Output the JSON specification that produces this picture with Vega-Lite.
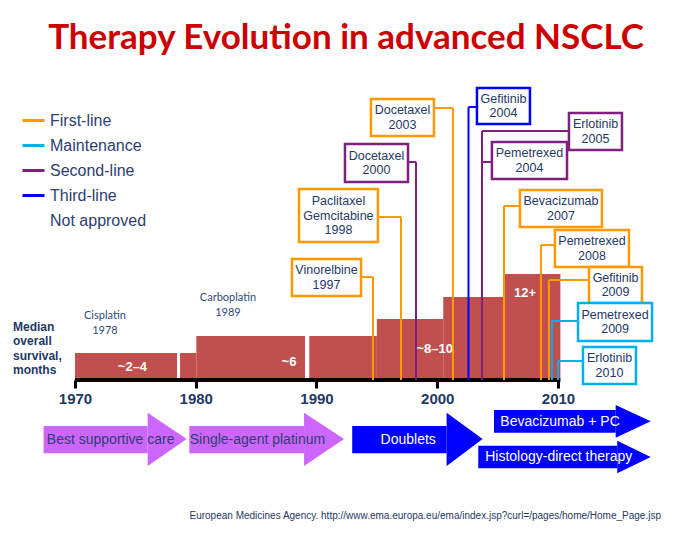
{
  "$schema": "https://vega.github.io/schema/vega-lite/v6.json",
  "padding": {"top": 21, "left": 0, "right": 0, "bottom": 8},
  "background": "white",
  "title": {"text": "Therapy Evolution in advanced NSCLC", "font": "Lato", "fontSize": 35, "fontWeight": "bold", "color": "#cc0000", "anchor": "middle", "offset": 14},
  "config": {"view": {"stroke": null}, "font": "Liberation Sans"},
  "spacing": 24,
  "bounds": "flush",
  "resolve": {"scale": {"x": "independent", "y": "independent"}},
  "datasets": {
    "bars": [
      {"from": 1970.0, "to": 1978.45, "level": 27},
      {"from": 1978.7, "to": 1980.05, "level": 27},
      {"from": 1980.05, "to": 1989.05, "level": 44},
      {"from": 1989.4, "to": 1995.0, "level": 44},
      {"from": 1995.0, "to": 2000.5, "level": 61},
      {"from": 2000.5, "to": 2005.6, "level": 83},
      {"from": 2005.6, "to": 2010.2, "level": 106}
    ],
    "callouts": [
      {"type": "First-line", "label": "Vinorelbine\n1997", "x0": 1987.97, "x1": 1993.69, "y0": 84, "y1": 121, "tx": 1990.83, "ty": 109.75, "cx": 1993.69, "vx": 1994.68, "cl": 103},
      {"type": "First-line", "label": "Paclitaxel\nGemcitabine\n1998", "x0": 1988.55, "x1": 1995.09, "y0": 138, "y1": 191, "tx": 1991.82, "ty": 179, "cx": 1995.09, "vx": 1997.0, "cl": 163},
      {"type": "Second-line", "label": "Docetaxel\n2000", "x0": 1992.36, "x1": 1997.58, "y0": 198, "y1": 236, "tx": 1994.97, "ty": 224.25, "cx": 1997.58, "vx": 1998.24, "cl": 218},
      {"type": "First-line", "label": "Docetaxel\n2003", "x0": 1994.51, "x1": 1999.73, "y0": 244, "y1": 281, "tx": 1997.12, "ty": 269.75, "cx": 1999.73, "vx": 2001.3, "cl": 272},
      {"type": "Third-line", "label": "Gefitinib\n2004", "x0": 2003.29, "x1": 2007.68, "y0": 256, "y1": 292, "tx": 2005.49, "ty": 281.25, "cx": 2003.29, "vx": 2002.59, "cl": 273},
      {"type": "Second-line", "label": "Erlotinib\n2005", "x0": 2010.91, "x1": 2015.3, "y0": 230, "y1": 267, "tx": 2013.11, "ty": 255.75, "cx": 2010.91, "vx": 2003.71, "cl": 249},
      {"type": "Second-line", "label": "Pemetrexed\n2004", "x0": 2004.53, "x1": 2010.75, "y0": 201, "y1": 238, "tx": 2007.64, "ty": 226.75, "cx": 2004.53, "vx": 2003.71, "cl": 218},
      {"type": "First-line", "label": "Bevacizumab\n2007", "x0": 2006.85, "x1": 2013.64, "y0": 153, "y1": 190, "tx": 2010.25, "ty": 178.75, "cx": 2006.85, "vx": 2005.53, "cl": 174},
      {"type": "First-line", "label": "Pemetrexed\n2008", "x0": 2009.75, "x1": 2015.88, "y0": 113, "y1": 150, "tx": 2012.82, "ty": 138.75, "cx": 2009.75, "vx": 2008.59, "cl": 135},
      {"type": "First-line", "label": "Gefitinib\n2009", "x0": 2012.57, "x1": 2016.96, "y0": 77, "y1": 113, "tx": 2014.77, "ty": 102.25, "cx": 2012.57, "vx": 2009.25, "cl": 100},
      {"type": "Maintenance", "label": "Pemetrexed\n2009", "x0": 2011.66, "x1": 2017.79, "y0": 39, "y1": 77, "tx": 2014.73, "ty": 65.25, "cx": 2011.66, "vx": 2009.5, "cl": 59},
      {"type": "Maintenance", "label": "Erlotinib\n2010", "x0": 2012.07, "x1": 2016.46, "y0": -4, "y1": 33, "tx": 2014.27, "ty": 21.75, "cx": 2012.07, "vx": 2010.0, "cl": 19}
    ],
    "barLabels": [
      {"x": 1974.76, "level": 13.5, "label": "~2–4"},
      {"x": 1987.72, "level": 18.5, "label": "~6"},
      {"x": 1999.79, "level": 31, "label": "~8–10"},
      {"x": 2007.27, "level": 87, "label": "12+"}
    ],
    "drugLabels": [
      {"x": 1972.48, "level": 64, "label": "Cisplatin\n1978"},
      {"x": 1982.67, "level": 82, "label": "Carboplatin\n1989"}
    ],
    "arrowBodies": [
      {"arrow": "Best supportive care", "phase": "Before doublets", "x0": 1967.4, "x1": 1976.02, "lo": 71.7, "hi": 99},
      {"arrow": "Single-agent platinum", "phase": "Before doublets", "x0": 1979.47, "x1": 1988.97, "lo": 71.7, "hi": 99},
      {"arrow": "Doublets", "phase": "Doublets and after", "x0": 1992.96, "x1": 2000.78, "lo": 71.7, "hi": 99},
      {"arrow": "Bevacizumab + PC", "phase": "Doublets and after", "x0": 2004.7, "x1": 2014.78, "lo": 92.3, "hi": 115},
      {"arrow": "Histology-direct therapy", "phase": "Doublets and after", "x0": 2003.4, "x1": 2014.91, "lo": 56.7, "hi": 79.3}
    ],
    "arrowHeads": [
      {"arrow": "Best supportive care", "phase": "Before doublets", "x": 1976.02, "lo": 59, "hi": 112.3},
      {"arrow": "Best supportive care", "phase": "Before doublets", "x": 1979.25, "lo": 86, "hi": 86},
      {"arrow": "Single-agent platinum", "phase": "Before doublets", "x": 1988.97, "lo": 59, "hi": 112.3},
      {"arrow": "Single-agent platinum", "phase": "Before doublets", "x": 1992.28, "lo": 86, "hi": 86},
      {"arrow": "Doublets", "phase": "Doublets and after", "x": 2000.78, "lo": 59, "hi": 112.3},
      {"arrow": "Doublets", "phase": "Doublets and after", "x": 2003.76, "lo": 86, "hi": 86},
      {"arrow": "Bevacizumab + PC", "phase": "Doublets and after", "x": 2014.78, "lo": 87.3, "hi": 120},
      {"arrow": "Bevacizumab + PC", "phase": "Doublets and after", "x": 2017.68, "lo": 103.7, "hi": 103.7},
      {"arrow": "Histology-direct therapy", "phase": "Doublets and after", "x": 2014.91, "lo": 51.7, "hi": 84.3},
      {"arrow": "Histology-direct therapy", "phase": "Doublets and after", "x": 2017.68, "lo": 68, "hi": 68}
    ],
    "earlyText": [
      {"x": 1967.67, "level": 85, "label": "Best supportive care"},
      {"x": 1979.5, "level": 85, "label": "Single-agent platinum"}
    ],
    "lateText": [
      {"x": 1997.6, "level": 85, "label": "Doublets"},
      {"x": 2010.17, "level": 103.3, "label": "Bevacizumab + PC"},
      {"x": 2010.06, "level": 67.7, "label": "Histology-direct therapy"}
    ]
  },
  "vconcat": [
    {
      "width": 692,
      "height": 310,
      "layer": [
        {
          "data": {"name": "bars"},
          "mark": {"type": "rect", "color": "#c0504d"},
          "encoding": {
            "x": {"field": "from", "type": "quantitative", "scale": {"domain": [1963.79, 2021.1], "nice": false, "zero": false},
              "axis": {"values": [1970, 1980, 1990, 2000, 2010], "format": "d", "title": null, "domain": false, "grid": false, "ticks": true, "tickColor": "black", "tickWidth": 3, "tickSize": 8, "labelFont": "Liberation Sans", "labelFontWeight": "bold", "labelFontSize": 15, "labelColor": "#1f3864", "labelPadding": 3, "labelFlush": false, "labelOverlap": false}},
            "x2": {"field": "to"},
            "y": {"field": "level", "type": "quantitative", "scale": {"domain": [0, 310], "nice": false, "zero": false}, "axis": null},
            "y2": {"datum": 0}
          }
        },
        {
          "data": {"values": [{"from": 1970, "to": 2010.2}]},
          "mark": {"type": "rule", "color": "black", "strokeWidth": 4},
          "encoding": {
            "x": {"field": "from", "type": "quantitative"},
            "x2": {"field": "to"},
            "y": {"datum": 0, "type": "quantitative", "axis": null}
          }
        },
        {
          "data": {"name": "callouts"},
          "mark": {"type": "rule", "strokeWidth": 2},
          "encoding": {
            "x": {"field": "cx", "type": "quantitative"},
            "x2": {"field": "vx"},
            "y": {"field": "cl", "type": "quantitative", "axis": null},
            "stroke": {"field": "type", "type": "nominal",
              "scale": {"domain": ["First-line", "Maintenance", "Second-line", "Third-line", "Not approved"], "range": ["#ff9900", "#00b0f0", "#7f1f7f", "#0000ff", "transparent"]},
              "legend": {"orient": "none", "legendX": 21, "legendY": 38, "title": null, "symbolType": "stroke", "symbolSize": 484, "symbolStrokeWidth": 3, "labelFont": "Liberation Sans", "labelFontSize": 16, "labelColor": "#2e3e6e", "labelOffset": 4, "rowPadding": 4, "padding": 0}}
          }
        },
        {
          "data": {"name": "callouts"},
          "mark": {"type": "rule", "strokeWidth": 2},
          "encoding": {
            "x": {"field": "vx", "type": "quantitative"},
            "y": {"field": "cl", "type": "quantitative", "axis": null},
            "y2": {"datum": 0},
            "stroke": {"field": "type", "type": "nominal"}
          }
        },
        {
          "data": {"name": "callouts"},
          "mark": {"type": "rect", "fill": "white", "strokeWidth": 2.5},
          "encoding": {
            "x": {"field": "x0", "type": "quantitative"},
            "x2": {"field": "x1"},
            "y": {"field": "y0", "type": "quantitative", "axis": null},
            "y2": {"field": "y1"},
            "stroke": {"field": "type", "type": "nominal"}
          }
        },
        {
          "data": {"name": "callouts"},
          "mark": {"type": "text", "font": "Liberation Sans", "fontSize": 12.5, "lineHeight": 14.5, "color": "#1f3864", "lineBreak": "\n", "baseline": "middle", "align": "center"},
          "encoding": {
            "x": {"field": "tx", "type": "quantitative"},
            "y": {"field": "ty", "type": "quantitative", "axis": null},
            "text": {"field": "label", "type": "nominal"}
          }
        },
        {
          "data": {"name": "barLabels"},
          "mark": {"type": "text", "font": "Liberation Sans", "fontSize": 13, "fontWeight": "bold", "color": "white", "baseline": "middle", "align": "center"},
          "encoding": {
            "x": {"field": "x", "type": "quantitative"},
            "y": {"field": "level", "type": "quantitative", "axis": null},
            "text": {"field": "label", "type": "nominal"}
          }
        },
        {
          "data": {"name": "drugLabels"},
          "mark": {"type": "text", "font": "Lato", "fontSize": 11, "lineHeight": 14.5, "color": "#2e4a7a", "lineBreak": "\n", "baseline": "middle", "align": "center"},
          "encoding": {
            "x": {"field": "x", "type": "quantitative"},
            "y": {"field": "level", "type": "quantitative", "axis": null},
            "text": {"field": "label", "type": "nominal"}
          }
        },
        {
          "data": {"values": [{"x": 1964.87, "level": 53, "label": "Median\noverall\nsurvival,\nmonths"}]},
          "mark": {"type": "text", "font": "Liberation Sans", "fontSize": 12, "fontWeight": "bold", "lineHeight": 14.3, "color": "#1f3864", "lineBreak": "\n", "baseline": "middle", "align": "left"},
          "encoding": {
            "x": {"field": "x", "type": "quantitative"},
            "y": {"field": "level", "type": "quantitative", "axis": null},
            "text": {"field": "label", "type": "nominal"}
          }
        }
      ]
    },
    {
      "width": 692,
      "height": 121,
      "layer": [
        {
          "data": {"name": "arrowBodies"},
          "mark": {"type": "rect", "opacity": 1},
          "encoding": {
            "x": {"field": "x0", "type": "quantitative", "scale": {"domain": [1963.79, 2021.1], "nice": false, "zero": false}, "axis": null},
            "x2": {"field": "x1"},
            "y": {"field": "lo", "type": "quantitative", "scale": {"domain": [0, 121], "nice": false, "zero": false}, "axis": null},
            "y2": {"field": "hi"},
            "color": {"field": "phase", "type": "nominal", "scale": {"domain": ["Before doublets", "Doublets and after"], "range": ["#cc66ff", "#0000ff"]}, "legend": null}
          }
        },
        {
          "data": {"name": "arrowHeads"},
          "mark": {"type": "area", "interpolate": "linear", "opacity": 1},
          "encoding": {
            "x": {"field": "x", "type": "quantitative", "axis": null},
            "y": {"field": "lo", "type": "quantitative", "axis": null},
            "y2": {"field": "hi"},
            "color": {"field": "phase", "type": "nominal", "legend": null},
            "detail": {"field": "arrow", "type": "nominal"}
          }
        },
        {
          "data": {"name": "earlyText"},
          "mark": {"type": "text", "font": "Liberation Sans", "fontSize": 14, "color": "#2e3e6e", "baseline": "middle", "align": "left"},
          "encoding": {
            "x": {"field": "x", "type": "quantitative", "axis": null},
            "y": {"field": "level", "type": "quantitative", "axis": null},
            "text": {"field": "label", "type": "nominal"}
          }
        },
        {
          "data": {"name": "lateText"},
          "mark": {"type": "text", "font": "Liberation Sans", "fontSize": 14, "color": "white", "baseline": "middle", "align": "center"},
          "encoding": {
            "x": {"field": "x", "type": "quantitative", "axis": null},
            "y": {"field": "level", "type": "quantitative", "axis": null},
            "text": {"field": "label", "type": "nominal"}
          }
        },
        {
          "data": {"values": [{"x": 2018.53, "level": 9.3, "label": "European Medicines Agency. http://www.ema.europa.eu/ema/index.jsp?curl=/pages/home/Home_Page.jsp"}]},
          "mark": {"type": "text", "font": "Liberation Sans", "fontSize": 10, "color": "#1f3864", "baseline": "middle", "align": "right"},
          "encoding": {
            "x": {"field": "x", "type": "quantitative", "axis": null},
            "y": {"field": "level", "type": "quantitative", "axis": null},
            "text": {"field": "label", "type": "nominal"}
          }
        }
      ]
    }
  ]
}
